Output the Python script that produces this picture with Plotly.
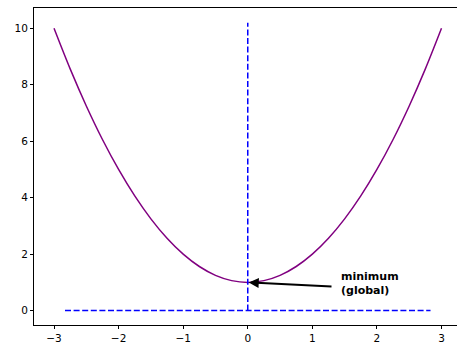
import plotly.graph_objects as go

# curve values
x_vals = [-3.0, -2.75, -2.5, -2.25, -2.0, -1.75, -1.5, -1.25, -1.0, -0.75, -0.5, -0.25, 0.0,
          0.25, 0.5, 0.75, 1.0, 1.25, 1.5, 1.75, 2.0, 2.25, 2.5, 2.75, 3.0]
y_vals = [10.0, 8.5625, 7.25, 6.0625, 5.0, 4.0625, 3.25, 2.5625, 2.0, 1.5625, 1.25, 1.0625, 1.0,
          1.0625, 1.25, 1.5625, 2.0, 2.5625, 3.25, 4.0625, 5.0, 6.0625, 7.25, 8.5625, 10.0]

# reference lines
vline_x = [0.0, 0.0]
vline_y = [0.0, 10.2]
hline_x = [-2.83, 2.83]
hline_y = [0.0, 0.0]

# annotation
min_point = (0.0, 1.0)
arrow_tail = (1.32, 0.85)
label_pos = (1.41, 0.95)
label_text = "minimum<br>(global)"

x_ticks = [-3, -2, -1, 0, 1, 2, 3]
x_ticktext = ["\u22123", "\u22122", "\u22121", "0", "1", "2", "3"]
y_ticks = [0, 2, 4, 6, 8, 10]
y_ticktext = ["0", "2", "4", "6", "8", "10"]

fig = go.Figure()
fig.add_trace(go.Scatter(x=x_vals, y=y_vals, mode="lines",
                         line=dict(color="#800080", width=1.5, shape="spline"),
                         showlegend=False, hoverinfo="skip"))
fig.add_trace(go.Scatter(x=vline_x, y=vline_y, mode="lines",
                         line=dict(color="#0000ff", width=1.5, dash="6px,2.6px"),
                         showlegend=False, hoverinfo="skip"))
fig.add_trace(go.Scatter(x=hline_x, y=hline_y, mode="lines",
                         line=dict(color="#0000ff", width=1.5, dash="6px,2.6px"),
                         showlegend=False, hoverinfo="skip"))

fig.add_annotation(x=min_point[0], y=min_point[1], ax=arrow_tail[0], ay=arrow_tail[1],
                   xref="x", yref="y", axref="x", ayref="y", text="",
                   showarrow=True, arrowhead=2, arrowsize=1, arrowwidth=2,
                   arrowcolor="black", standoff=1)
fig.add_annotation(x=label_pos[0], y=label_pos[1], xref="x", yref="y",
                   text="<b>" + label_text + "</b>", showarrow=False,
                   xanchor="left", yanchor="middle", align="left",
                   font=dict(family="DejaVu Sans", size=11, color="black"))

fig.update_layout(
    width=457, height=343,
    margin=dict(l=34, r=0, t=7.5, b=18, pad=0),
    plot_bgcolor="white", paper_bgcolor="white",
    font=dict(family="DejaVu Sans", size=10.5, color="black"),
    xaxis=dict(range=[-3.31, 3.24], tickvals=x_ticks, ticktext=x_ticktext,
               showgrid=False, zeroline=False, showline=True, linecolor="black",
               linewidth=1, mirror=True, ticks="outside", ticklen=3, tickwidth=1,
               tickcolor="black"),
    yaxis=dict(range=[-0.51, 10.72], tickvals=y_ticks, ticktext=y_ticktext,
               showgrid=False, zeroline=False, showline=True, linecolor="black",
               linewidth=1, mirror=False, ticks="outside", ticklen=3, tickwidth=1,
               tickcolor="black"),
)

fig.write_html("out.html")
